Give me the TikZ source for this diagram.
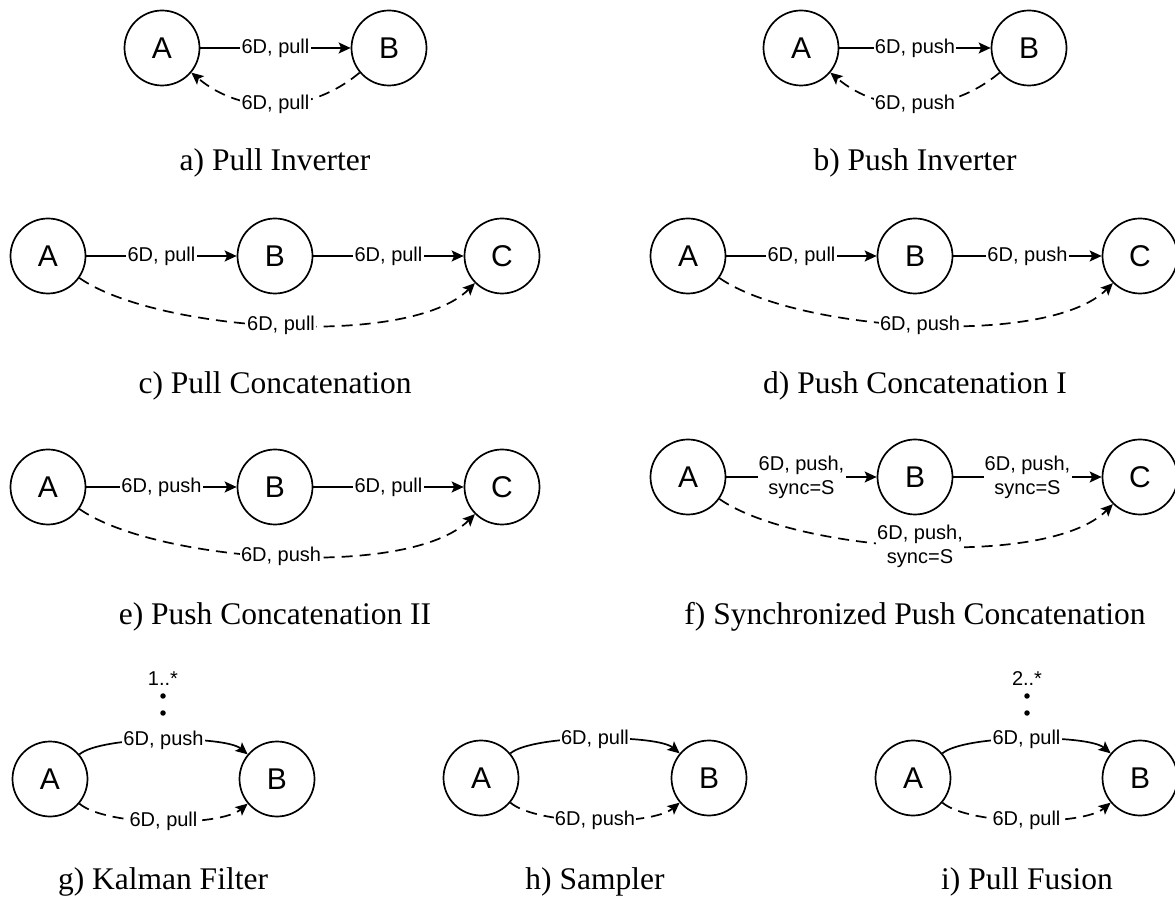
\documentclass[tikz,border=0pt]{standalone}
\usepackage{fontspec}
\setmainfont{Liberation Serif}
\newfontfamily\arialfont{Liberation Sans}
\usetikzlibrary{arrows.meta}
\tikzset{
  st/.style={circle, draw, line width=1.7pt, minimum size=75pt, inner sep=0pt, font=\arialfont\fontsize{30}{36}\selectfont},
  lab/.style={fill=white, inner sep=1.2pt, font=\arialfont\fontsize{20}{24}\selectfont, align=center},
  mult/.style={inner sep=0pt, font=\arialfont\fontsize{20}{24}\selectfont},
  dotn/.style={circle, fill, inner sep=0pt, minimum size=5.5pt},
  edg/.style={line width=1.7pt, -{Stealth[length=12pt,width=11pt,inset=2.5pt]}},
  dsh/.style={edg, dash pattern=on 11pt off 7pt},
  capt/.style={inner sep=0pt, font=\fontsize{31.5}{38}\selectfont},
}
\begin{document}
\begin{tikzpicture}[x=1pt,y=1pt]
\useasboundingbox (0,0) rectangle (1175,900);
% a) Pull Inverter
\node[st] (aA) at (162,852) {A};
\node[st] (aB) at (389,852) {B};
\draw[edg] (aA) -- node[lab]{6D, pull} (aB);
\draw[dsh] (aB) to[bend left=40, looseness=1.0] node[lab]{6D, pull} (aA);
\node[capt] (capa) at (275,737) {a) Pull Inverter};
% b) Push Inverter
\node[st] (bA) at (801,852) {A};
\node[st] (bB) at (1029,852) {B};
\draw[edg] (bA) -- node[lab]{6D, push} (bB);
\draw[dsh] (bB) to[bend left=40, looseness=1.0] node[lab]{6D, push} (bA);
\node[capt] (capb) at (915,737) {b) Push Inverter};
% c) Pull Concatenation
\node[st] (cA) at (48,644) {A};
\node[st] (cB) at (275,644) {B};
\node[st] (cC) at (502,644) {C};
\draw[edg] (cA) -- node[lab]{6D, pull} (cB);
\draw[edg] (cB) -- node[lab]{6D, pull} (cC);
\draw[dsh] (cA) to[out=-35, in=-135, looseness=0.6] node[lab]{6D, pull} (cC);
\node[capt] (capc) at (275,514) {c) Pull Concatenation};
% d) Push Concatenation I
\node[st] (dA) at (688,644) {A};
\node[st] (dB) at (915,644) {B};
\node[st] (dC) at (1140,644) {C};
\draw[edg] (dA) -- node[lab]{6D, pull} (dB);
\draw[edg] (dB) -- node[lab]{6D, push} (dC);
\draw[dsh] (dA) to[out=-35, in=-135, looseness=0.6] node[lab]{6D, push} (dC);
\node[capt] (capd) at (915,514) {d) Push Concatenation I};
% e) Push Concatenation II
\node[st] (eA) at (48,413) {A};
\node[st] (eB) at (275,413) {B};
\node[st] (eC) at (502,413) {C};
\draw[edg] (eA) -- node[lab]{6D, push} (eB);
\draw[edg] (eB) -- node[lab]{6D, pull} (eC);
\draw[dsh] (eA) to[out=-35, in=-135, looseness=0.6] node[lab]{6D, push} (eC);
\node[capt] (cape) at (275,283) {e) Push Concatenation II};
% f) Synchronized Push Concatenation
\node[st] (fA) at (688,423) {A};
\node[st] (fB) at (915,423) {B};
\node[st] (fC) at (1140,423) {C};
\draw[edg] (fA) -- node[lab]{6D, push,\\sync=S} (fB);
\draw[edg] (fB) -- node[lab]{6D, push,\\sync=S} (fC);
\draw[dsh] (fA) to[out=-35, in=-135, looseness=0.6] node[lab]{6D, push,\\sync=S} (fC);
\node[capt] (capf) at (915,283) {f) Synchronized Push Concatenation};
% g) Kalman Filter
\node[st] (gA) at (50,121) {A};
\node[st] (gB) at (277,121) {B};
\draw[edg] (gA) to[out=40, in=140, looseness=0.45] node[lab] (gl) {6D, push} (gB);
\draw[dsh] (gA) to[out=-40, in=-140, looseness=0.55] node[lab]{6D, pull} (gB);
\node[dotn] (gd1) at (163,187) {};
\node[dotn] (gd2) at (163,204) {};
\node[mult] (gm) at (163,221) {1..*};
\node[capt] (capg) at (163,18) {g) Kalman Filter};
% h) Sampler
\node[st] (hA) at (481,122) {A};
\node[st] (hB) at (709,122) {B};
\draw[edg] (hA) to[out=40, in=140, looseness=0.45] node[lab]{6D, pull} (hB);
\draw[dsh] (hA) to[out=-40, in=-140, looseness=0.55] node[lab]{6D, push} (hB);
\node[capt] (caph) at (595,18) {h) Sampler};
% i) Pull Fusion
\node[st] (iA) at (913,122) {A};
\node[st] (iB) at (1140,122) {B};
\draw[edg] (iA) to[out=40, in=140, looseness=0.45] node[lab]{6D, pull} (iB);
\draw[dsh] (iA) to[out=-40, in=-140, looseness=0.55] node[lab]{6D, pull} (iB);
\node[dotn] (id1) at (1027,187) {};
\node[dotn] (id2) at (1027,204) {};
\node[mult] (im) at (1027,221) {2..*};
\node[capt] (capi) at (1027,18) {i) Pull Fusion};
\end{tikzpicture}
\end{document}
